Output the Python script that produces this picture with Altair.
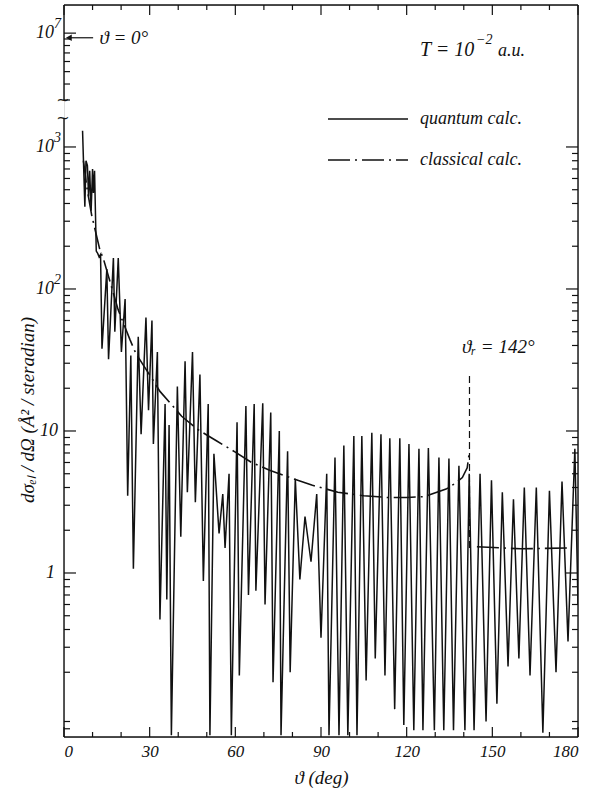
import altair as alt
import pandas as pd

# ---------------- data ----------------
# quantum calculation: successive extrema (deg, Å^2/sr)
theta_q = [6.5, 7.3, 7.7, 8.2, 8.6, 9.0, 9.5, 10.0, 10.3, 10.7, 11.3, 11.8, 12.3, 12.8,
           13.3, 15.0, 15.6, 17.3, 17.8, 19.0, 20.1, 21.4, 22.3, 23.4, 24.3, 26.0, 27.0,
           28.7, 29.6, 30.8, 31.3, 32.7, 33.6, 35.4, 36.0, 36.8, 37.6, 39.7, 40.9, 42.4,
           43.2, 45.0, 46.0, 47.6, 48.8, 50.5, 51.1, 52.5, 54.3, 55.6, 56.4, 57.8, 58.6,
           60.6, 61.4, 63.7, 64.6, 66.6, 67.2, 69.6, 70.4, 72.4, 73.2, 75.4, 76.0, 78.3,
           79.2, 81.0, 82.6, 84.4, 86.5, 88.5, 90.0, 92.0, 92.8, 94.9, 96.3, 98.0, 99.4,
           101.5, 102.6, 104.3, 105.8, 107.8, 109.0, 111.0, 112.4, 114.1, 115.8, 117.6,
           119.0, 120.8, 122.5, 124.3, 125.7, 127.6, 129.7, 131.3, 133.0, 134.8, 136.4,
           138.3, 140.4, 141.9, 143.6, 145.7, 147.8, 149.7, 151.6, 153.5, 155.5, 157.4,
           159.3, 161.2, 163.2, 165.4, 167.7, 170.0, 172.3, 174.4, 176.5, 178.9, 180.0]
sigma_q = [1300, 380, 800, 740, 450, 680, 355, 700, 475, 680, 185, 178, 168, 175,
           38, 138, 32, 165, 50, 165, 36, 85, 3.5, 34, 1.07, 46, 9.5,
           63, 14, 60, 8.1, 36, 0.47, 15.5, 0.65, 11, 0.072, 20.6, 1.8, 31,
           3.7, 36, 3.15, 25, 0.88, 15.5, 0.072, 6.9, 1.9, 3.6, 1.5, 5.0, 0.072,
           11.5, 0.19, 15, 0.7, 15.5, 0.75, 15.7, 0.6, 13.5, 0.17, 10, 0.072, 7.2,
           0.2, 4.6, 0.9, 2.5, 1.2, 3.6, 0.35, 5.0, 0.072, 6.5, 0.072, 7.9, 0.072,
           9.2, 0.072, 9.2, 0.175, 9.7, 0.25, 9.5, 0.19, 8.9, 0.11, 8.9,
           0.085, 8.1, 0.078, 7.5, 0.078, 7.6, 0.078, 6.5, 0.078, 6.4, 0.078,
           5.7, 0.078, 5.0, 0.078, 5.0, 0.09, 4.5, 0.12, 3.7, 0.22, 3.3,
           0.25, 4.0, 0.19, 4.0, 0.075, 3.8, 0.2, 4.4, 0.33, 7.5, 0.6]

# classical calculation (two branches, split at the rainbow angle)
theta_c1 = [6.8, 8.0, 9.7, 12.6, 13.8, 19.0, 23.1, 25.2, 30.7, 33.6, 41.2, 47.0, 53.5,
            60.0, 65.7, 72.0, 79.1, 87.0, 95.9, 105.0, 113.4, 120.0, 126.2, 133.8,
            137.2, 139.5, 141.2, 142.0]
sigma_c1 = [800, 520, 330, 187, 163, 71, 44, 35, 23.6, 19, 12.7, 10.2, 8.5,
            7.1, 6.0, 5.3, 4.7, 4.15, 3.7, 3.5, 3.4, 3.4, 3.45, 3.9,
            4.3, 4.7, 5.5, 7.2]
theta_c2 = [144.6, 160.0, 177.2]
sigma_c2 = [1.53, 1.48, 1.50]

theta_rainbow = 142
rainbow_span = [1.5, 25]
theta0_value = 9.2e6          # value marked "ϑ = 0°"

x_tick_values = list(range(0, 181, 10))
x_label_values = [0, 30, 60, 90, 120, 150, 180]
y_label_values = [1e7, 1e3, 1e2, 10, 1]
y_label_base = ["10", "10", "10", "10", "1"]
y_label_exp = ["7", "3", "2", "", ""]

# ---------------- layout ----------------
W, H = 514, 732
Y_LOW, Y_BRK_LO, Y_BRK_HI, Y_TOP = 0.07, 10 ** 3.204, 3.0e6, 10 ** 7.22
FONT = "Liberation Serif"
INK = "#111111"

xscale = alt.Scale(domain=[0, 180], nice=False)
yscale = alt.Scale(type="log", domain=[Y_LOW, Y_BRK_LO, Y_BRK_HI, Y_TOP],
                   range=[H, 113, 95, 0], nice=False)

df_q = pd.DataFrame({"theta": theta_q, "sigma": sigma_q})
df_c = pd.concat([
    pd.DataFrame({"theta": theta_c1, "sigma": sigma_c1, "branch": "a"}),
    pd.DataFrame({"theta": theta_c2, "sigma": sigma_c2, "branch": "b"}),
])
one = pd.DataFrame({"a": [0]})

DASHDOT = [22, 5, 2, 5]

x_axis = alt.Axis(values=x_label_values, ticks=False, tickSize=0, domain=False, grid=False,
                  labelFont=FONT, labelFontStyle="italic", labelFontSize=17, labelColor=INK,
                  labelPadding=6, title="ϑ (deg)", titleFont=FONT, titleFontStyle="italic",
                  titleFontWeight="normal", titleFontSize=19, titleColor=INK, titlePadding=9)

quantum = alt.Chart(df_q).mark_line(color=INK, strokeWidth=1.5, clip=True).encode(
    x=alt.X("theta:Q", scale=xscale, axis=x_axis),
    y=alt.Y("sigma:Q", scale=yscale, axis=None),
)

classical = alt.Chart(df_c).mark_line(color=INK, strokeWidth=1.6, strokeDash=DASHDOT, clip=True).encode(
    x="theta:Q", y="sigma:Q", detail="branch:N"
)

rainbow = alt.Chart(one).mark_rule(color=INK, strokeWidth=1.2, strokeDash=[7, 4]).encode(
    x=alt.datum(theta_rainbow), y=alt.datum(rainbow_span[0]), y2=alt.datum(rainbow_span[1])
)

# ---- ticks (drawn inward) ----
df_xt = pd.DataFrame({"t": x_tick_values})
def xticks(top, major):
    base = alt.Chart(df_xt).transform_filter(
        "datum.t % 30 == 0" if major else "datum.t % 30 != 0")
    ln = 10 if major else 5
    y0 = 0 if top else H
    y1 = ln if top else H - ln
    return base.mark_rule(color=INK, strokeWidth=1.2).encode(
        x="t:Q", y=alt.value(y0), y2=alt.value(y1))

lower_minor = [k * 10 ** n for n in range(-2, 3) for k in range(2, 10)
               if Y_LOW < k * 10 ** n < Y_BRK_LO]
lower_major = [1, 10, 100, 1000]
upper_minor = [k * 1e6 for k in range(3, 10)]
upper_major = [1e7]

def yticks(vals, side, ln):
    d = pd.DataFrame({"v": vals})
    x0 = 0 if side == "left" else W
    x1 = ln if side == "left" else W - ln
    return alt.Chart(d).mark_rule(color=INK, strokeWidth=1.2).encode(
        y="v:Q", x=alt.value(x0), x2=alt.value(x1))

ticks = [
    xticks(False, False), xticks(False, True), xticks(True, False), xticks(True, True),
    yticks(lower_minor, "left", 6), yticks(lower_major, "left", 12),
    yticks(lower_minor, "right", 6), yticks(lower_major, "right", 12),
    yticks(upper_minor, "left", 6), yticks(upper_major, "left", 12),
]

# ---- frame (left axis broken) ----
frame = [
    alt.Chart(one).mark_rule(color=INK, strokeWidth=1.4).encode(
        x=alt.value(0), x2=alt.value(W), y=alt.value(0)),
    alt.Chart(one).mark_rule(color=INK, strokeWidth=1.4).encode(
        x=alt.value(0), x2=alt.value(W), y=alt.value(H)),
    alt.Chart(one).mark_rule(color=INK, strokeWidth=1.4).encode(
        x=alt.value(W), y=alt.value(0), y2=alt.value(H)),
    alt.Chart(one).mark_rule(color=INK, strokeWidth=1.4).encode(
        x=alt.value(0), y=alt.datum(Y_LOW), y2=alt.datum(Y_BRK_LO)),
    alt.Chart(one).mark_rule(color=INK, strokeWidth=1.4).encode(
        x=alt.value(0), y=alt.datum(Y_BRK_HI), y2=alt.datum(Y_TOP)),
]
breaks = alt.Chart(pd.DataFrame({"v": [Y_BRK_HI, Y_BRK_LO]})).mark_text(
    text="~", font="DejaVu Sans", fontSize=16, color=INK, align="center", baseline="middle"
).encode(x=alt.value(-1), y="v:Q")

# ---- y labels ----
df_yl = pd.DataFrame({"v": y_label_values, "base": y_label_base, "exp": y_label_exp})
lab_kw = dict(font=FONT, fontStyle="italic", color=INK, baseline="middle")
ylab_pow = alt.Chart(df_yl).transform_filter("datum.exp != ''").mark_text(
    align="right", fontSize=18, **lab_kw).encode(x=alt.value(-10), y="v:Q", text="base:N")
ylab_exp = alt.Chart(df_yl).transform_filter("datum.exp != ''").mark_text(
    align="left", fontSize=14, dy=-9, **lab_kw).encode(x=alt.value(-10), y="v:Q", text="exp:N")
ylab_ten = alt.Chart(df_yl).transform_filter("datum.base == '10' && datum.exp == ''").mark_text(
    align="right", fontSize=18, **lab_kw).encode(x=alt.value(-6), y="v:Q", text="base:N")
ylab_one = alt.Chart(df_yl).transform_filter("datum.base == '1'").mark_text(
    align="right", fontSize=18, **lab_kw).encode(x=alt.value(-9), y="v:Q", text="base:N")

ytitle = alt.Chart(one).mark_text(
    text="dσₑₗ / dΩ   (Å² / steradian)", angle=270, font=FONT, fontStyle="italic",
    fontSize=19, color=INK, align="center", baseline="middle"
).encode(x=alt.value(-36), y=alt.value(405))

# ---- annotations ----
txt = dict(font=FONT, fontStyle="italic", color=INK, baseline="middle", align="left")
theta0_arrow = alt.Chart(one).mark_rule(color=INK, strokeWidth=1.2).encode(
    x=alt.datum(1.9), x2=alt.datum(10.2), y=alt.datum(theta0_value))
theta0_head = alt.Chart(one).mark_point(shape="triangle-left", filled=True, color=INK,
                                        size=45, opacity=1).encode(
    x=alt.datum(1.7), y=alt.datum(theta0_value))
theta0_text = alt.Chart(one).mark_text(text="ϑ = 0°", fontSize=19, **txt).encode(
    x=alt.datum(12.4), y=alt.datum(theta0_value))
rainbow_text = alt.Chart(one).mark_text(text="ϑᵣ = 142°", fontSize=19, **txt).encode(
    x=alt.datum(139.4), y=alt.datum(39))
temp_text = alt.Chart(one).mark_text(text="T = 10", fontSize=20, **txt).encode(
    x=alt.value(356), y=alt.value(45))
temp_exp = alt.Chart(one).mark_text(text="−2", fontSize=14, **txt).encode(
    x=alt.value(412), y=alt.value(35))
temp_unit = alt.Chart(one).mark_text(text="a.u.", fontSize=18, **txt).encode(
    x=alt.value(434), y=alt.value(46))

leg_q_line = alt.Chart(one).mark_rule(color=INK, strokeWidth=1.5).encode(
    x=alt.value(264), x2=alt.value(344), y=alt.value(114))
leg_c_line = alt.Chart(one).mark_rule(color=INK, strokeWidth=1.5, strokeDash=DASHDOT).encode(
    x=alt.value(264), x2=alt.value(344), y=alt.value(155))
leg_q_text = alt.Chart(one).mark_text(text="quantum calc.", fontSize=18, **txt).encode(
    x=alt.value(356), y=alt.value(114))
leg_c_text = alt.Chart(one).mark_text(text="classical calc.", fontSize=18, **txt).encode(
    x=alt.value(356), y=alt.value(155))

chart = alt.layer(
    quantum, classical, rainbow, *ticks, *frame, breaks,
    ylab_pow, ylab_exp, ylab_ten, ylab_one, ytitle,
    theta0_arrow, theta0_head, theta0_text, rainbow_text, temp_text, temp_exp, temp_unit,
    leg_q_line, leg_c_line, leg_q_text, leg_c_text,
).properties(
    width=W, height=H,
    autosize=alt.AutoSizeParams(type="none"),
    padding={"left": 64, "top": 5, "right": 17, "bottom": 55},
).configure_view(stroke=None).configure(background="white")

chart.save("out.html", embed_options={"renderer": "svg", "actions": False})
